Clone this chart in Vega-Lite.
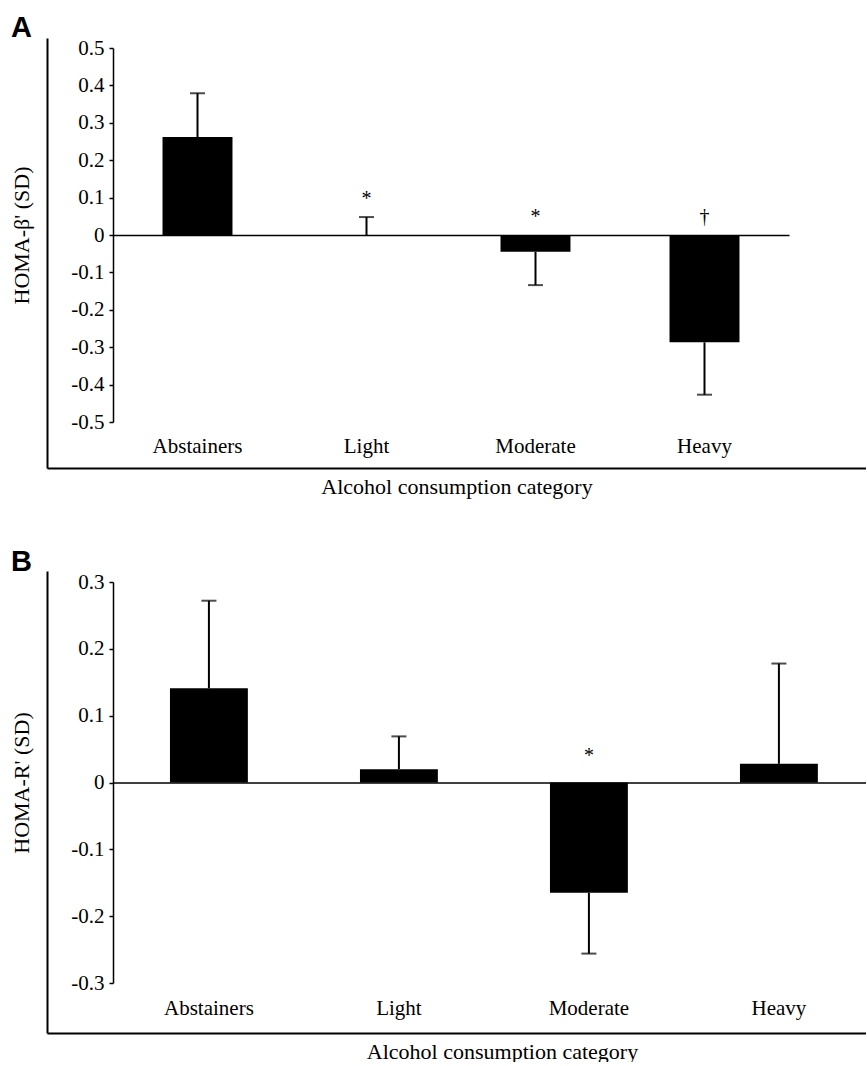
{
  "$schema": "https://vega.github.io/schema/vega-lite/v6.json",
  "background": "white",
  "padding": {"left": 10, "top": 14, "right": 0, "bottom": 0},
  "spacing": 51,
  "config": {
    "view": {"stroke": null},
    "font": "Liberation Serif",
    "axis": {"labelFont": "Liberation Serif", "titleFont": "Liberation Serif", "labelColor": "black", "titleColor": "black", "domainColor": "black", "tickColor": "black", "grid": false}
  },
  "datasets": {
    "a": [
      {"cat": "Abstainers", "value": 0.262, "end": 0.379, "sig": "", "sigAt": 0.379},
      {"cat": "Light", "value": 0, "end": 0.048, "sig": "*", "sigAt": 0.048},
      {"cat": "Moderate", "value": -0.045, "end": -0.134, "sig": "*", "sigAt": 0},
      {"cat": "Heavy", "value": -0.287, "end": -0.427, "sig": "†", "sigAt": 0}
    ],
    "b": [
      {"cat": "Abstainers", "value": 0.141, "end": 0.272, "sig": "", "sigAt": 0.272},
      {"cat": "Light", "value": 0.02, "end": 0.069, "sig": "", "sigAt": 0.069},
      {"cat": "Moderate", "value": -0.165, "end": -0.256, "sig": "*", "sigAt": 0},
      {"cat": "Heavy", "value": 0.028, "end": 0.178, "sig": "", "sigAt": 0.178}
    ]
  },
  "vconcat": [
    {
      "width": 819,
      "height": 430,
      "title": {"text": "A", "anchor": "start", "frame": "group", "font": "Liberation Sans", "fontWeight": "bold", "fontSize": 29, "color": "black", "dx": -36, "dy": 27, "offset": -2, "baseline": "alphabetic"},
      "layer": [
        {
          "data": {"name": "a"},
          "encoding": {
            "x": {
              "field": "cat", "type": "nominal", "sort": null,
              "scale": {"range": [66, 742], "paddingInner": 0.586, "paddingOuter": 0.293},
              "axis": {"orient": "bottom", "offset": -233, "domain": true, "domainWidth": 1.5, "ticks": false, "tickSize": 0, "labelPadding": 211, "labelBaseline": "middle", "labelFontSize": 21, "labelAngle": 0, "title": null}
            }
          },
          "layer": [
            {
              "mark": {"type": "bar", "color": "black"},
              "encoding": {
                "y": {
                  "field": "value", "type": "quantitative",
                  "scale": {"domain": [-0.5, 0.5], "range": [384, 10], "nice": false},
                  "axis": {"orient": "left", "offset": -66, "values": [-0.5, -0.4, -0.3, -0.2, -0.1, 0, 0.1, 0.2, 0.3, 0.4, 0.5], "tickSize": 4, "tickWidth": 1.5, "domainWidth": 1.5, "labelPadding": 5, "labelFontSize": 21, "labelExpr": "datum.value == 0 ? '0' : (datum.value < 0 ? '-' : '') + format(abs(datum.value), '.1f')", "title": "HOMA-β' (SD)", "titleFontSize": 22, "titleFontWeight": "normal", "titlePadding": 37}
                }
              }
            },
            {
              "mark": {"type": "rule", "color": "black", "strokeWidth": 2},
              "encoding": {"y": {"field": "value", "type": "quantitative"}, "y2": {"field": "end"}}
            },
            {
              "mark": {"type": "tick", "size": 15, "thickness": 2, "color": "black"},
              "encoding": {"y": {"field": "end", "type": "quantitative"}}
            },
            {
              "transform": [{"filter": "datum.sig != ''"}],
              "mark": {"type": "text", "font": "Liberation Serif", "fontSize": 20, "baseline": "alphabetic", "dy": -12, "color": "black"},
              "encoding": {"y": {"field": "sigAt", "type": "quantitative"}, "text": {"field": "sig"}}
            }
          ]
        },
        {
          "data": {"name": "a"},
          "mark": {"type": "point", "opacity": 0},
          "encoding": {
            "x": {"datum": 0, "type": "quantitative", "scale": {"domain": [0, 1]}, "axis": {"orient": "bottom", "domain": true, "domainWidth": 2, "ticks": false, "labels": false, "grid": false, "title": "Alcohol consumption category", "titleFontSize": 22, "titleFontWeight": "normal", "titleX": 409.5, "titleY": 8, "titleAlign": "center", "titleBaseline": "top"}},
            "y": {"datum": 0, "type": "quantitative", "scale": {"domain": [0, 1]}, "axis": {"orient": "left", "domain": true, "domainWidth": 2, "ticks": false, "labels": false, "grid": false, "title": null}}
          }
        }
      ],
      "resolve": {"scale": {"x": "independent", "y": "independent"}}
    },
    {
      "width": 819,
      "height": 462,
      "title": {"text": "B", "anchor": "start", "frame": "group", "font": "Liberation Sans", "fontWeight": "bold", "fontSize": 29, "color": "black", "dx": -36, "dy": 27, "offset": -2, "baseline": "alphabetic"},
      "layer": [
        {
          "data": {"name": "b"},
          "encoding": {
            "x": {
              "field": "cat", "type": "nominal", "sort": null,
              "scale": {"range": [66, 819], "paddingInner": 0.59, "paddingOuter": 0.2766, "align": 0.542},
              "axis": {"orient": "bottom", "offset": -250.5, "domain": true, "domainWidth": 1.5, "ticks": false, "tickSize": 0, "labelPadding": 225.5, "labelBaseline": "middle", "labelFontSize": 21, "labelAngle": 0, "title": null}
            }
          },
          "layer": [
            {
              "mark": {"type": "bar", "color": "black"},
              "encoding": {
                "y": {
                  "field": "value", "type": "quantitative",
                  "scale": {"domain": [-0.3, 0.3], "range": [412, 11], "nice": false},
                  "axis": {"orient": "left", "offset": -66, "values": [-0.3, -0.2, -0.1, 0, 0.1, 0.2, 0.3], "tickSize": 4, "tickWidth": 1.5, "domainWidth": 1.5, "labelPadding": 5, "labelFontSize": 21, "labelExpr": "datum.value == 0 ? '0' : (datum.value < 0 ? '-' : '') + format(abs(datum.value), '.1f')", "title": "HOMA-R' (SD)", "titleFontSize": 22, "titleFontWeight": "normal", "titlePadding": 37}
                }
              }
            },
            {
              "mark": {"type": "rule", "color": "black", "strokeWidth": 2},
              "encoding": {"y": {"field": "value", "type": "quantitative"}, "y2": {"field": "end"}}
            },
            {
              "mark": {"type": "tick", "size": 15, "thickness": 2, "color": "black"},
              "encoding": {"y": {"field": "end", "type": "quantitative"}}
            },
            {
              "transform": [{"filter": "datum.sig != ''"}],
              "mark": {"type": "text", "font": "Liberation Serif", "fontSize": 20, "baseline": "alphabetic", "dy": -21, "color": "black"},
              "encoding": {"y": {"field": "sigAt", "type": "quantitative"}, "text": {"field": "sig"}}
            }
          ]
        },
        {
          "data": {"name": "b"},
          "mark": {"type": "point", "opacity": 0},
          "encoding": {
            "x": {"datum": 0, "type": "quantitative", "scale": {"domain": [0, 1]}, "axis": {"orient": "bottom", "domain": true, "domainWidth": 2, "ticks": false, "labels": false, "grid": false, "title": "Alcohol consumption category", "titleFontSize": 22, "titleFontWeight": "normal", "titleX": 455, "titleY": 8, "titleAlign": "center", "titleBaseline": "top"}},
            "y": {"datum": 0, "type": "quantitative", "scale": {"domain": [0, 1]}, "axis": {"orient": "left", "domain": true, "domainWidth": 2, "ticks": false, "labels": false, "grid": false, "title": null}}
          }
        }
      ],
      "resolve": {"scale": {"x": "independent", "y": "independent"}}
    }
  ]
}
